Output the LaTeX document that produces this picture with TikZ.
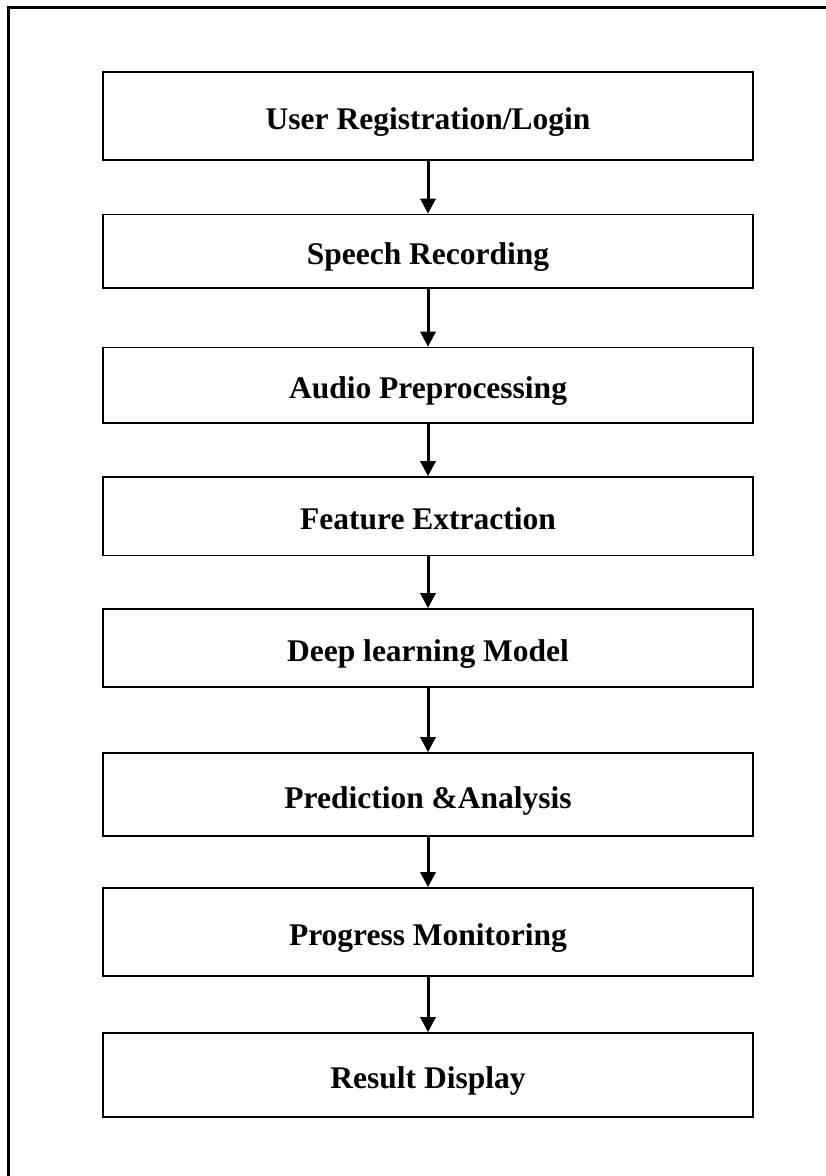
\documentclass[tikz,border=0pt]{standalone}
\usepackage{fontspec}
\setmainfont{Liberation Serif}
\usetikzlibrary{arrows.meta}
\begin{document}
\begin{tikzpicture}[x=1pt,y=-1pt,
  stepbox/.style={draw=black, line width=1.6pt, minimum width=650pt, inner sep=0pt,
     font=\fontsize{31.5}{36}\selectfont\bfseries, text height=27pt, text depth=0pt},
  arr/.style={line width=3pt, -{Triangle[width=15pt,length=15pt]}},
  frame/.style={line width=2.6pt}]
\useasboundingbox (0,0) rectangle (826,1176);
\draw[frame] (8.3,1176) -- (8.3,7.3) -- (826,7.3);
\node[stepbox, minimum height=88pt] (n1) at (428,116) {User Registration/Login};
\node[stepbox, minimum height=73.5pt] (n2) at (428,251.25) {Speech Recording};
\node[stepbox, minimum height=75.5pt] (n3) at (428,385.25) {Audio Preprocessing};
\node[stepbox, minimum height=78.5pt] (n4) at (428,516.25) {Feature Extraction};
\node[stepbox, minimum height=78pt] (n5) at (428,648) {Deep learning Model};
\node[stepbox, minimum height=83pt] (n6) at (428,794.5) {Prediction \&Analysis};
\node[stepbox, minimum height=88pt] (n7) at (428,932) {Progress Monitoring};
\node[stepbox, minimum height=84pt] (n8) at (428,1075) {Result Display};
\draw[arr] (n1) -- (n2);
\draw[arr] (n2) -- (n3);
\draw[arr] (n3) -- (n4);
\draw[arr] (n4) -- (n5);
\draw[arr] (n5) -- (n6);
\draw[arr] (n6) -- (n7);
\draw[arr] (n7) -- (n8);
\end{tikzpicture}
\end{document}
